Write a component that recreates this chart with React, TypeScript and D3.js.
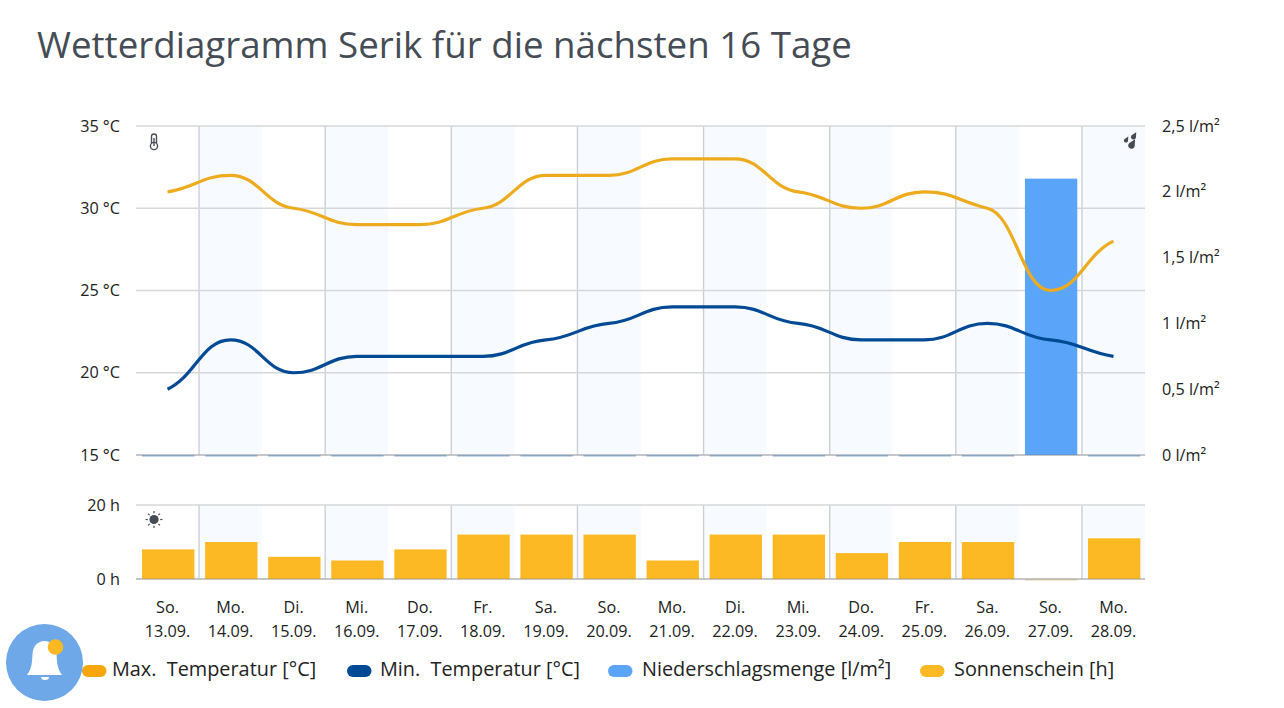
import { useEffect, useRef } from "react";
import * as d3 from "d3";

const weekdays = ["So.", "Mo.", "Di.", "Mi.", "Do.", "Fr.", "Sa.", "So.", "Mo.", "Di.", "Mi.", "Do.", "Fr.", "Sa.", "So.", "Mo."];
const dates = ["13.09.", "14.09.", "15.09.", "16.09.", "17.09.", "18.09.", "19.09.", "20.09.", "21.09.", "22.09.", "23.09.", "24.09.", "25.09.", "26.09.", "27.09.", "28.09."];
const maxTemp = [31, 32, 30, 29, 29, 30, 32, 32, 33, 33, 31, 30, 31, 30, 25, 28];
const minTemp = [19, 22, 20, 21, 21, 21, 22, 23, 24, 24, 23, 22, 22, 23, 22, 21];
const rain = [0, 0, 0, 0, 0, 0, 0, 0, 0, 0, 0, 0, 0, 0, 2.1, 0];
const sun = [8, 10, 6, 5, 8, 12, 12, 12, 5, 12, 12, 7, 10, 10, 0, 11];
const tempTicks = [15, 20, 25, 30, 35];
const rainTicks = [0, 0.5, 1, 1.5, 2, 2.5];
const rainLabels = ["0 l/m²", "0,5 l/m²", "1 l/m²", "1,5 l/m²", "2 l/m²", "2,5 l/m²"];
const sunTicks = [0, 20];
const legendItems = [
  { label: "Max.  Temperatur [°C]", color: "#f7a70d", x: 82, tx: 112 },
  { label: "Min.  Temperatur [°C]", color: "#004a95", x: 347, tx: 380 },
  { label: "Niederschlagsmenge [l/m²]", color: "#5aa5fa", x: 608, tx: 642 },
  { label: "Sonnenschein [h]", color: "#fdb924", x: 920, tx: 954 },
];

const FONT = "'Open Sans', 'Noto Sans', sans-serif";
const TEXT = "#222";

// spline with long handles, tangents flattened so the line rests on every reading
function splineCurve(context: any) {
  const pts: [number, number][] = [];
  return {
    areaStart() {},
    areaEnd() {},
    lineStart() {
      pts.length = 0;
    },
    point(x: number, y: number) {
      pts.push([+x, +y]);
    },
    lineEnd() {
      const last = pts.length - 1;
      const slopes = pts.map(([x, y], i) => {
        if (i === 0) return (0.6 * (pts[1][1] - y)) / (pts[1][0] - x);
        if (i === last) return (0.6 * (y - pts[i - 1][1])) / (x - pts[i - 1][0]);
        const [px, py] = pts[i - 1];
        const [nx, ny] = pts[i + 1];
        if ((y - py) * (ny - y) <= 0) return 0;
        return (0.3 * (ny - py)) / (nx - px);
      });
      pts.forEach(([x, y], i) => {
        if (i === 0) {
          context.moveTo(x, y);
          return;
        }
        const [px, py] = pts[i - 1];
        const h = (x - px) * 0.45;
        context.bezierCurveTo(px + h, py + slopes[i - 1] * h, x - h, y - slopes[i] * h, x, y);
      });
    },
  };
}

export default function App() {
  const svgRef = useRef<SVGSVGElement>(null);

  useEffect(() => {
    const svg = d3.select(svgRef.current);
    svg.selectAll("*").remove();

    const left = 136;
    const right = 1145;
    const idx = d3.range(dates.length);
    const band = d3.scaleBand<number>().domain(idx).range([left, right]);
    const bars = d3.scaleBand<number>().domain(idx).range([left + 0.7, right + 0.7]).paddingInner(0.17).paddingOuter(0.085);
    const yTemp = d3.scaleLinear().domain([15, 35]).range([455, 126]);
    const yRain = d3.scaleLinear().domain([0, 2.5]).range([455, 126]);
    const ySun = d3.scaleLinear().domain([0, 20]).range([579, 505]);

    svg.append("text")
      .attr("x", 37).attr("y", 58)
      .attr("font-size", 36.7).attr("fill", "#454c55")
      .text("Wetterdiagramm Serik für die nächsten 16 Tage");

    // alternating day bands in both panels
    [[126, 455], [505, 579]].forEach(([top, bottom]) => {
      idx.filter((i) => i % 2 === 1).forEach((i) => {
        svg.append("rect")
          .attr("x", band(i)!).attr("y", top)
          .attr("width", band.bandwidth()).attr("height", bottom - top)
          .attr("fill", "#f7fafe");
        svg.append("line")
          .attr("x1", band(i)!).attr("x2", band(i)!)
          .attr("y1", top).attr("y2", bottom)
          .attr("stroke", "#ccd0d6").attr("stroke-width", 1.4);
      });
    });

    const grid = (ticks: number[], y: (v: number) => number) =>
      ticks.forEach((t) => {
        svg.append("line")
          .attr("x1", left).attr("x2", right)
          .attr("y1", y(t)).attr("y2", y(t))
          .attr("stroke", "#d5d7da").attr("stroke-width", 1.4);
      });
    grid(tempTicks, yTemp);
    grid(sunTicks, ySun);

    // rain bars, dry days still show as a thin line on the baseline
    svg.append("g").selectAll("rect").data(rain).join("rect")
      .attr("x", (_d, i) => bars(i)!)
      .attr("width", bars.bandwidth())
      .attr("y", (d) => yRain(d))
      .attr("height", (d) => Math.max(yRain(0) - yRain(d), 1.5))
      .attr("fill", (d) => (d > 0 ? "#5aa5fa" : "#8fb4de"));

    svg.append("g").selectAll("rect").data(sun).join("rect")
      .attr("x", (_d, i) => bars(i)!)
      .attr("width", bars.bandwidth())
      .attr("y", (d) => ySun(d))
      .attr("height", (d) => Math.max(ySun(0) - ySun(d), 1.5))
      .attr("fill", (d) => (d > 0 ? "#fdb924" : "#ddd3b4"));

    // baselines sit on top of the bars
    [yTemp(15), ySun(0)].forEach((y) => {
      svg.append("line")
        .attr("x1", left).attr("x2", right).attr("y1", y).attr("y2", y)
        .attr("stroke", "#7a7a7a").attr("stroke-opacity", 0.35).attr("stroke-width", 1.4);
    });

    const center = (i: number) => band(i)! + band.bandwidth() / 2;
    const tempLine = d3.line<number>().x((_d, i) => center(i)).y((d) => yTemp(d)).curve(splineCurve as any);
    svg.append("path").attr("d", tempLine(maxTemp)).attr("fill", "none").attr("stroke", "#edab1d").attr("stroke-width", 3.2);
    svg.append("path").attr("d", tempLine(minTemp)).attr("fill", "none").attr("stroke", "#004a95").attr("stroke-width", 3.2);

    // axis labels
    tempTicks.forEach((t) => {
      svg.append("text").attr("x", 120).attr("y", yTemp(t) + 5.5).attr("text-anchor", "end")
        .attr("font-size", 16.2).attr("fill", TEXT).text(`${t} °C`);
    });
    rainTicks.forEach((t, i) => {
      svg.append("text").attr("x", 1162).attr("y", yRain(t) + 5.5).attr("font-size", 16.2).attr("fill", TEXT).text(rainLabels[i]);
    });
    sunTicks.forEach((t) => {
      svg.append("text").attr("x", 120).attr("y", ySun(t) + 5.5).attr("text-anchor", "end")
        .attr("font-size", 16.2).attr("fill", TEXT).text(`${t} h`);
    });
    idx.forEach((i) => {
      const t = svg.append("text").attr("text-anchor", "middle").attr("font-size", 16.2).attr("fill", TEXT);
      t.append("tspan").attr("x", center(i)).attr("y", 613).text(weekdays[i]);
      t.append("tspan").attr("x", center(i)).attr("y", 637).text(dates[i]);
    });

    // thermometer icon
    const therm = svg.append("g").attr("transform", "translate(154,141)").attr("fill", "#fff").attr("stroke", "#4a4f57").attr("stroke-width", 1.4);
    therm.append("rect").attr("x", -2.5).attr("y", -7).attr("width", 5).attr("height", 11).attr("rx", 2.5);
    therm.append("circle").attr("cx", 0).attr("cy", 5).attr("r", 3.6);
    therm.append("line").attr("x1", 0).attr("x2", 0).attr("y1", -3).attr("y2", 5);

    // rain drops icon, round body with the tip pointing up and right
    const drop = (x: number, y: number, r: number) =>
      `M${x + r * 1.1},${y - r * 1.9} L${x - r * 0.64},${y - r * 0.77} A${r},${r} 0 1 0 ${x + r * 0.98},${y + r * 0.17} Z`;
    [[1131.5, 145.5, 3.3], [1133.5, 137, 2.5], [1126, 140.5, 2.1]].forEach(([x, y, r]) => {
      svg.append("path").attr("d", drop(x, y, r)).attr("fill", "#454c55");
    });

    // sun icon
    const sunIcon = svg.append("g").attr("transform", "translate(154,519.5)");
    sunIcon.append("circle").attr("r", 4.6).attr("fill", "#454c55");
    d3.range(8).forEach((k) => {
      const a = (k * Math.PI) / 4;
      sunIcon.append("line")
        .attr("x1", Math.cos(a) * 6.2).attr("y1", Math.sin(a) * 6.2)
        .attr("x2", Math.cos(a) * 8.4).attr("y2", Math.sin(a) * 8.4)
        .attr("stroke", "#454c55").attr("stroke-width", 1.2);
    });

    // legend
    legendItems.forEach((d) => {
      svg.append("rect").attr("x", d.x).attr("y", 665).attr("width", 24.5).attr("height", 12).attr("rx", 6).attr("fill", d.color);
      svg.append("text").attr("x", d.tx).attr("y", 676).attr("font-size", 19.85).attr("fill", TEXT).style("white-space", "pre").text(d.label);
    });

    // notification bell on top of the chart
    svg.append("circle").attr("cx", 44.5).attr("cy", 662.5).attr("r", 38.5).attr("fill", "#6ea8e8");
    svg.append("path")
      .attr("d", "M27 675 C32.5 668 32 660 32.5 654 C33 646 38 641 44.5 641 C51 641 56 646 56.5 654 C57 660 56.5 668 62 675 Z")
      .attr("fill", "#fff");
    svg.append("path").attr("d", "M41 677 A4 3 0 0 0 49 677 Z").attr("fill", "#fff");
    svg.append("circle").attr("cx", 55.5).attr("cy", 647).attr("r", 7.8).attr("fill", "#fdb924");
  }, []);

  return (
    <svg
      ref={svgRef}
      width={1284}
      height={708}
      style={{ position: "absolute", left: 0, top: 0, fontFamily: FONT, background: "#fff" }}
    />
  );
}
